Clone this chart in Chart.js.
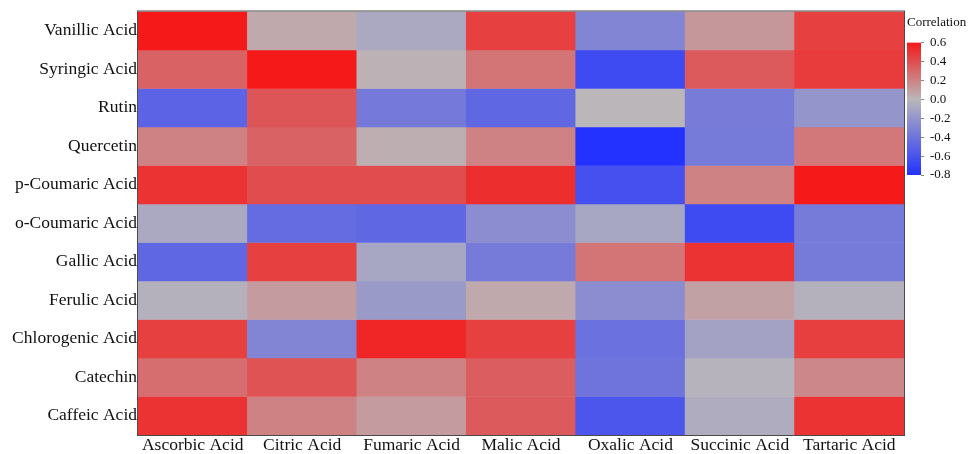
<!DOCTYPE html>
<html>
<head>
<meta charset="utf-8">
<script src="https://cdn.jsdelivr.net/npm/chart.js@4.4.1/dist/chart.umd.min.js"></script>
<style>
  html, body { margin: 0; padding: 0; background: #ffffff; }
  #wrap { position: relative; width: 979px; height: 454px; }
  #main { position: absolute; left: 0; top: 0; }
  #cbar { position: absolute; left: 900px; top: 6px; }
</style>
</head>
<body>
<div id="wrap">
  <canvas id="main" width="979" height="454"></canvas>
  <canvas id="cbar" width="79" height="184"></canvas>
</div>
<script>
// Phenolic compounds (rows, top to bottom) and organic acids (columns)
const compounds = ['Vanillic Acid', 'Syringic Acid', 'Rutin', 'Quercetin', 'p-Coumaric Acid',
  'o-Coumaric Acid', 'Gallic Acid', 'Ferulic Acid', 'Chlorogenic Acid', 'Catechin', 'Caffeic Acid'];
const acids = ['Ascorbic Acid', 'Citric Acid', 'Fumaric Acid', 'Malic Acid', 'Oxalic Acid',
  'Succinic Acid', 'Tartaric Acid'];

// Correlation coefficients, one array per compound, in acid order
const vanillic    = [ 0.60,  0.05, -0.08,  0.45, -0.30,  0.12,  0.45];
const syringic    = [ 0.32,  0.60,  0.02,  0.25, -0.65,  0.35,  0.47];
const rutin       = [-0.50,  0.37, -0.37, -0.48,  0.00, -0.35, -0.20];
const quercetin   = [ 0.20,  0.32,  0.03,  0.20, -0.80, -0.36,  0.24];
const pCoumaric   = [ 0.50,  0.40,  0.40,  0.52, -0.62,  0.20,  0.60];
const oCoumaric   = [-0.08, -0.45, -0.48, -0.25, -0.10, -0.65, -0.36];
const gallic      = [-0.48,  0.45, -0.10, -0.36,  0.25,  0.50, -0.36];
const ferulic     = [-0.03,  0.10, -0.17,  0.05, -0.25,  0.08, -0.03];
const chlorogenic = [ 0.45, -0.30,  0.55,  0.45, -0.42, -0.12,  0.46];
const catechin    = [ 0.28,  0.38,  0.20,  0.34, -0.40, -0.02,  0.18];
const caffeic     = [ 0.50,  0.20,  0.10,  0.35, -0.58, -0.06,  0.50];

// Colour bar range and ticks
const scaleMin = -0.8;
const scaleMax = 0.6;
const colorTicks = [0.6, 0.4, 0.2, 0.0, -0.2, -0.4, -0.6, -0.8];

const matrix = [vanillic, syringic, rutin, quercetin, pCoumaric, oCoumaric,
  gallic, ferulic, chlorogenic, catechin, caffeic];

// Diverging blue - grey - red colour map
const BLUE = [35, 50, 255];
const GREY = [186, 182, 186];
const RED  = [245, 25, 25];
function mix(a, b, t) {
  return a.map((c, i) => Math.round(c + (b[i] - c) * t));
}
function colorFor(v) {
  let c;
  if (v < 0) c = mix(GREY, BLUE, Math.min(1, v / scaleMin));
  else c = mix(GREY, RED, Math.min(1, v / scaleMax));
  return `rgb(${c[0]},${c[1]},${c[2]})`;
}

const serif = "'Liberation Serif', 'Times New Roman', serif";
const nRows = compounds.length;

// One floating-bar dataset per compound; each cell spans [row, row + 1]
const datasets = matrix.map((vals, k) => {
  const r = nRows - 1 - k;
  return {
    label: compounds[k],
    data: vals.map(() => [r, r + 1]),
    backgroundColor: vals.map(colorFor),
    borderWidth: 0,
    barPercentage: 1.0,
    categoryPercentage: 1.0
  };
});

const frame = {
  id: 'frame',
  afterDatasetsDraw(chart) {
    const a = chart.chartArea;
    const ctx = chart.ctx;
    ctx.save();
    ctx.strokeStyle = '#4a4a4a';
    ctx.lineWidth = 1;
    ctx.strokeRect(a.left - 0.5, a.top - 0.5, a.right - a.left + 1, a.bottom - a.top + 1);
    ctx.restore();
  }
};

new Chart(document.getElementById('main'), {
  type: 'bar',
  data: { labels: acids, datasets },
  options: {
    responsive: false,
    animation: false,
    devicePixelRatio: 1,
    layout: { padding: { left: 0, right: 75, top: 10, bottom: 0 } },
    plugins: { legend: { display: false }, tooltip: { enabled: false } },
    scales: {
      x: {
        stacked: true,
        grid: { display: false, drawTicks: false },
        border: { display: false },
        ticks: {
          autoSkip: false, maxRotation: 0, padding: 0,
          color: '#111', font: { family: serif, size: 17.5 }
        },
        afterFit(axis) { axis.height = 19; }
      },
      y: {
        stacked: false,
        min: 0, max: nRows,
        grid: { display: false, drawTicks: false },
        border: { display: false },
        afterBuildTicks(axis) {
          axis.ticks = compounds.map((_, i) => ({ value: i + 0.5 }));
        },
        ticks: {
          padding: 1,
          color: '#111', font: { family: serif, size: 17.5 },
          callback: (v) => compounds[nRows - 1 - Math.floor(v)]
        },
        afterFit(axis) { axis.width = 138; }
      }
    }
  },
  plugins: [frame]
});

// Colour bar legend: a single floating bar filled with the colour map
new Chart(document.getElementById('cbar'), {
  type: 'bar',
  data: {
    labels: [''],
    datasets: [{
      data: [[scaleMin, scaleMax]],
      borderWidth: 0,
      barPercentage: 1.0,
      categoryPercentage: 1.0,
      backgroundColor(ctx) {
        const chart = ctx.chart;
        const y = chart.scales.y;
        if (!y) return colorFor(0);
        const y0 = y.getPixelForValue(scaleMin);
        const y1 = y.getPixelForValue(scaleMax);
        if (!isFinite(y0) || !isFinite(y1)) return colorFor(0);
        const g = chart.ctx.createLinearGradient(0, y0, 0, y1);
        const steps = 28;
        for (let i = 0; i <= steps; i++) {
          const v = scaleMin + (scaleMax - scaleMin) * i / steps;
          g.addColorStop(i / steps, colorFor(v));
        }
        return g;
      }
    }]
  },
  options: {
    responsive: false,
    animation: false,
    devicePixelRatio: 1,
    layout: { padding: { left: 7, right: 0, top: 9, bottom: 15 } },
    plugins: {
      legend: { display: false },
      tooltip: { enabled: false },
      title: {
        display: true, text: 'Correlation', align: 'start',
        color: '#111', font: { family: serif, size: 13, weight: 'normal' },
        padding: { top: 0, bottom: 12 }
      }
    },
    scales: {
      x: { display: false },
      y: {
        position: 'right',
        min: scaleMin, max: scaleMax,
        afterBuildTicks(axis) {
          axis.ticks = colorTicks.map(v => ({ value: v }));
        },
        grid: { drawOnChartArea: false, drawTicks: true, tickLength: 3, color: '#888' },
        border: { display: false },
        ticks: {
          padding: 6,
          color: '#111', font: { family: serif, size: 13 },
          callback: (v) => Number(v).toFixed(1)
        },
        afterFit(axis) { axis.width = 58; }
      }
    }
  }
});
</script>
</body>
</html>
